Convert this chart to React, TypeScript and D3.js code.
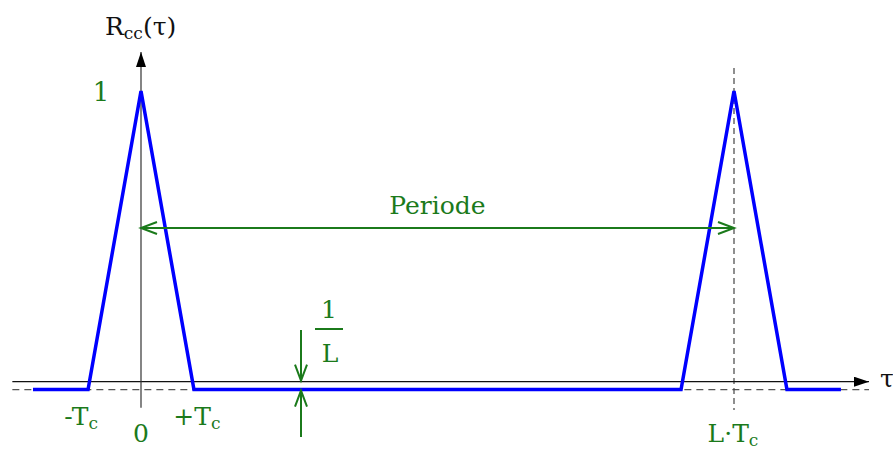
import React from 'react';
import * as d3 from 'd3';

// tau in units of Tc, R_cc normalised to the peak
const L = 11.2;
const tauValues = [-2.04, -1, 0, 1, L - 1, L, L + 1, L + 2.02];
const rccValues = [-0.027, -0.027, 1, -0.027, -0.027, 1, -0.027, -0.027];

const tickTaus = [-1, 0, 1, L];
const tickMain = ['-T', '0', '+T', 'L·T'];
const tickSub = ['c', '', 'c', 'c'];

const floorLevel = -0.027;
const axisRange = { tauMin: -2.43, tauMax: 13.75, rMin: -0.09, rMax: 1.134 };

const W = 893;
const H = 452;
const GREEN = '#1b7a1b';
const FONT = '"DejaVu Serif", serif';

export default function App() {
  const x = d3.scaleLinear().domain([0, L]).range([141, 734]);
  const y = d3.scaleLinear().domain([0, 1]).range([381.7, 91]);

  const pts = tauValues.map((t, i) => [t, rccValues[i]] as [number, number]);
  const line = d3.line<[number, number]>()
    .x(d => x(d[0]))
    .y(d => y(d[1]));

  const xL = x(axisRange.tauMin);
  const xR = x(axisRange.tauMax);
  const yFloor = y(floorLevel);
  const periodeY = 228;
  const fracX = 301;

  // labels under the axis: left of the tick for negatives, right for positives
  const tickDx = (t: number) => (t < 0 ? -7 : t === 0 ? 0 : t < L ? 3 : -1);
  const tickY = (t: number) => (t === 0 || t === L ? 442 : 425);

  return (
    <svg width={W} height={H} style={{ position: 'absolute', left: 0, top: 0, background: '#fff' }}
      fontFamily={FONT}>
      <defs>
        <marker id="openArrow" markerUnits="userSpaceOnUse" markerWidth={20} markerHeight={16}
          refX={17} refY={7} orient="auto-start-reverse" viewBox="0 0 20 16">
          <path d="M1,1 L17,7 L1,13" fill="none" stroke={GREEN} strokeWidth={2} />
        </marker>
        <marker id="solidArrow" markerUnits="userSpaceOnUse" markerWidth={16} markerHeight={12}
          refX={15} refY={5} orient="auto" viewBox="0 0 16 12">
          <path d="M0,0 L15,5 L0,10 Z" fill="#000" />
        </marker>
      </defs>

      {/* dashed reference lines */}
      <line x1={xL} x2={xR} y1={yFloor} y2={yFloor} stroke="#555" strokeWidth={1.2} strokeDasharray="7,5" />
      <line x1={x(L)} x2={x(L)} y1={68} y2={410} stroke="#444" strokeWidth={1.2} strokeDasharray="6,4" />

      {/* axes */}
      <line x1={xL} x2={xR} y1={y(0)} y2={y(0)} stroke="#111" strokeWidth={1.2} markerEnd="url(#solidArrow)" />
      <line x1={x(0)} x2={x(0)} y1={y(axisRange.rMin)} y2={y(axisRange.rMax)} stroke="#333" strokeWidth={1.2}
        markerEnd="url(#solidArrow)" />

      {/* correlation function */}
      <path d={line(pts) ?? ''} fill="none" stroke="#0000ff" strokeWidth={3.5} strokeLinejoin="miter" />

      {/* period arrow */}
      <line x1={x(0)} x2={x(L)} y1={periodeY} y2={periodeY} stroke={GREEN} strokeWidth={2}
        markerStart="url(#openArrow)" markerEnd="url(#openArrow)" />
      <text x={(x(0) + x(L)) / 2} y={214} textAnchor="middle" fontSize={25} fill={GREEN}>Periode</text>

      {/* 1/L offset arrows */}
      <line x1={fracX} x2={fracX} y1={330} y2={y(0) - 1} stroke={GREEN} strokeWidth={2} markerEnd="url(#openArrow)" />
      <line x1={fracX} x2={fracX} y1={437} y2={yFloor + 1} stroke={GREEN} strokeWidth={2} markerEnd="url(#openArrow)" />
      <text x={329} y={318} textAnchor="middle" fontSize={25} fill={GREEN}>1</text>
      <line x1={315} x2={343} y1={329} y2={329} stroke={GREEN} strokeWidth={2} />
      <text x={330} y={362} textAnchor="middle" fontSize={25} fill={GREEN}>L</text>

      {/* labels */}
      <text x={101} y={101} textAnchor="middle" fontSize={26} fill={GREEN}>1</text>
      {tickTaus.map((t, i) => (
        <text key={i} x={x(t) + tickDx(t)} y={tickY(t)} textAnchor="middle"
          fontSize={25} fill={GREEN}>
          {tickMain[i]}
          {tickSub[i] && <tspan fontSize={17} dy={4}>{tickSub[i]}</tspan>}
        </text>
      ))}
      <text x={105} y={35} fontSize={25} fill="#111">
        R<tspan fontSize={17} dy={4}>cc</tspan><tspan dy={-4}>(τ)</tspan>
      </text>
      <text x={880} y={387} fontSize={25} fill="#111">τ</text>
    </svg>
  );
}
